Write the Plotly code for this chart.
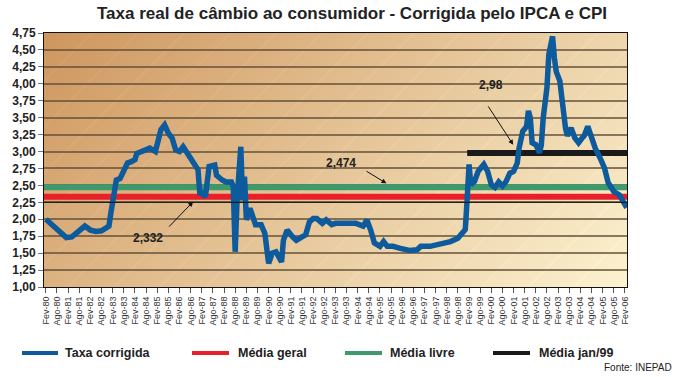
import base64, zlib, struct
import plotly.graph_objects as go

# ---------------- data ----------------
taxa_datas = [
    '1980-02','1980-06','1980-10','1981-01','1981-04','1981-07','1981-11','1982-02','1982-05','1982-08','1982-11','1982-12',
    '1983-01','1983-03','1983-04','1983-06','1983-08','1983-10','1983-12','1984-02','1984-03','1984-06','1984-10',
    '1985-01','1985-02','1985-04','1985-06','1985-08','1985-10','1985-12','1986-02','1986-04','1986-08','1986-12',
    '1987-01','1987-02','1987-04','1987-05','1987-06','1987-09','1987-10','1988-01','1988-03','1988-06','1988-07','1988-08','1988-09','1988-11','1988-12',
    '1989-01','1989-02','1989-04','1989-06','1989-07','1989-10','1989-12','1990-02','1990-04','1990-06','1990-09','1990-10','1990-12',
    '1991-03','1991-05','1991-08','1991-10','1991-12','1992-02','1992-04','1992-07','1992-09','1992-12','1993-02','1993-06','1993-10',
    '1994-01','1994-05','1994-07','1994-09','1994-11','1995-02','1995-04','1995-06','1995-09','1996-01','1996-06','1996-10','1996-12',
    '1997-05','1997-10','1998-04','1998-08','1998-11','1998-12','1999-01','1999-02','1999-03','1999-05','1999-07','1999-10','1999-12',
    '2000-02','2000-04','2000-06','2000-08','2000-10','2000-12','2001-02','2001-04','2001-05','2001-07','2001-09','2001-10','2001-11','2001-12',
    '2002-02','2002-04','2002-05','2002-06','2002-08','2002-09','2002-11','2002-12','2003-01','2003-03','2003-04','2003-06','2003-07','2003-09','2003-11',
    '2004-01','2004-03','2004-04','2004-06','2004-08','2004-10','2005-01','2005-03','2005-05','2005-08','2005-11','2006-01','2006-03',
]
taxa_corrigida = [
    2.00, 1.90, 1.79, 1.73, 1.74, 1.82, 1.90, 1.84, 1.82, 1.83, 1.90, 1.90,
    2.09, 2.38, 2.58, 2.60, 2.70, 2.83, 2.85, 2.88, 2.97, 3.00, 3.05,
    3.00, 3.10, 3.32, 3.39, 3.27, 3.20, 3.02, 3.00, 3.07, 2.90, 2.73,
    2.36, 2.39, 2.33, 2.58, 2.78, 2.80, 2.65, 2.58, 2.55, 2.55, 2.48, 1.52, 2.28, 3.07, 2.28,
    2.63, 1.99, 2.16, 1.99, 1.92, 1.92, 1.79, 1.35, 1.50, 1.52, 1.37, 1.69, 1.84,
    1.74, 1.69, 1.74, 1.77, 1.96, 2.01, 2.01, 1.94, 1.99, 1.92, 1.94, 1.94, 1.92,
    1.94, 1.90, 1.99, 1.84, 1.65, 1.60, 1.67, 1.60, 1.60, 1.57, 1.54, 1.55, 1.60,
    1.60, 1.63, 1.67, 1.72, 1.80, 1.85, 2.30, 2.81, 2.51, 2.56, 2.71, 2.81, 2.71,
    2.51, 2.47, 2.55, 2.49, 2.56, 2.68, 2.71, 2.83, 3.05, 3.30, 3.37, 3.60, 3.50, 3.13,
    3.10, 2.98, 3.10, 3.50, 3.94, 4.43, 4.70, 4.38, 4.18, 4.04, 3.74, 3.35, 3.23, 3.35, 3.20,
    3.13, 3.20, 3.23, 3.37, 3.20, 3.05, 2.88, 2.76, 2.54, 2.41, 2.36, 2.27, 2.17,
]
media_geral = 2.332
media_livre = 2.474
media_jan99 = 2.98
inicio_jan99 = '1999-01-01'
rotulos_medias = ['2,332', '2,474', '2,98']

x_inicio, x_fim = '1980-01-01', '2006-03-06'
anos = list(range(1980, 2007))
tick_vals = []
tick_text = []
for a in anos:
    for mes, nome in (('02', 'Fev'), ('08', 'Ago')):
        if a == 2006 and mes == '08':
            continue
        tick_vals.append(f'{a}-{mes}-01')
        tick_text.append(f'{nome}-{str(a)[2:]}')

# ---------------- background gradient image ----------------
def gradient_png(w, h, c0, c1):
    raw = bytearray()
    for y in range(h):
        raw.append(0)
        for x in range(w):
            t = (x + y) / (w + h - 2)
            s = (x + y) % 46
            boost = 4 if s < 3 else 0
            for i in range(3):
                v = c0[i] + (c1[i] - c0[i]) * t + boost
                raw.append(max(0, min(255, int(round(v)))))
    def chunk(tag, data):
        return struct.pack('>I', len(data)) + tag + data + struct.pack('>I', zlib.crc32(tag + data) & 0xffffffff)
    png = b'\x89PNG\r\n\x1a\n'
    png += chunk(b'IHDR', struct.pack('>IIBBBBB', w, h, 8, 2, 0, 0, 0))
    png += chunk(b'IDAT', zlib.compress(bytes(raw), 9))
    png += chunk(b'IEND', b'')
    return 'data:image/png;base64,' + base64.b64encode(png).decode()

bg_src = gradient_png(583, 254, (206, 150, 94), (252, 242, 208))

# ---------------- figure ----------------
W, H = 679, 377
L, R, T, B = 44, 52, 33, 90
PW, PH = W - L - R, H - T - B
def px(xp):
    return (xp - L) / PW
def py(yp):
    return (T + PH - yp) / PH

FONT = 'Liberation Sans, Arial, sans-serif'

fig = go.Figure()
fig.add_trace(go.Scatter(x=[x_inicio, x_fim], y=[media_geral, media_geral], mode='lines',
                         line=dict(color='#e8202a', width=6), hoverinfo='skip'))
fig.add_trace(go.Scatter(x=[x_inicio, x_fim], y=[media_livre, media_livre], mode='lines',
                         line=dict(color='#3d9a6c', width=6), hoverinfo='skip'))
fig.add_trace(go.Scatter(x=[inicio_jan99, x_fim], y=[media_jan99, media_jan99], mode='lines',
                         line=dict(color='#1a1a1a', width=6), hoverinfo='skip'))
fig.add_trace(go.Scatter(x=taxa_datas, y=taxa_corrigida, mode='lines',
                         line=dict(color='#0d5a9c', width=5.5), name='Taxa corrigida'))

fig.add_shape(type='line', xref='paper', x0=0, x1=1, yref='y', y0=2.25, y1=2.25,
              line=dict(color='#111', width=1), layer='above')

bold = dict(family=FONT, size=12, color='#222', weight='bold')

arrows = [
    ('1986-09-12', 2.26, -27, 28, rotulos_medias[0], 148, 238),
    ('1995-05-18', 2.53, -23, -14, rotulos_medias[1], 341, 163),
    ('2001-01-25', 3.10, -28, -43, rotulos_medias[2], 491, 85),
]
for xa, ya, ax, ay, txt, tx, ty in arrows:
    fig.add_annotation(x=xa, y=ya, xref='x', yref='y', text=' ', showarrow=True,
                       ax=ax, ay=ay, arrowhead=2, arrowsize=1, arrowwidth=1,
                       arrowcolor='#111', standoff=0, startstandoff=0)
    fig.add_annotation(x=px(tx), y=py(ty), xref='paper', yref='paper', text=txt,
                       showarrow=False, font=bold, xanchor='center', yanchor='middle')

leg = [('#0d5a9c', 22, 58, 63, 'Taxa corrigida'),
       ('#e8202a', 192, 229, 236, 'Média geral'),
       ('#3d9a6c', 345, 382, 388, 'Média livre'),
       ('#1a1a1a', 493, 530, 537, 'Média jan/99')]
for col, x0, x1, xt, txt in leg:
    fig.add_shape(type='line', xref='paper', yref='paper', x0=px(x0), x1=px(x1),
                  y0=py(353), y1=py(353), line=dict(color=col, width=4))
    fig.add_annotation(x=px(xt), y=py(353), xref='paper', yref='paper', text=txt,
                       showarrow=False, font=dict(family=FONT, size=12.5, color='#222', weight='bold'),
                       xanchor='left', yanchor='middle')

fig.add_annotation(x=px(674), y=py(368), xref='paper', yref='paper', text='Fonte: INEPAD',
                   showarrow=False, xanchor='right', yanchor='middle',
                   font=dict(family=FONT, size=10, color='#222'))

fig.add_layout_image(dict(source=bg_src, xref='paper', yref='paper', x=0, y=1, sizex=1, sizey=1,
                          sizing='stretch', layer='below', xanchor='left', yanchor='top'))

fig.update_layout(
    width=W, height=H,
    margin=dict(l=L, r=R, t=T, b=B),
    paper_bgcolor='white', plot_bgcolor='rgba(0,0,0,0)',
    showlegend=False,
    separators=',.',
    title=dict(text='Taxa real de câmbio ao consumidor - Corrigida pelo IPCA e CPI',
               x=352 / W, xanchor='center', y=1 - 13 / H, yanchor='middle',
               font=dict(family=FONT, size=17, color='#222', weight='bold')),
    xaxis=dict(type='date', range=[x_inicio, x_fim], tickmode='array', tickvals=tick_vals,
               ticktext=tick_text, tickangle=-90, ticks='outside', ticklen=5, tickcolor='#555',
               tickfont=dict(family=FONT, size=9, color='#333'),
               showgrid=False, showline=True, linecolor='#111', linewidth=1, mirror=True, zeroline=False),
    yaxis=dict(range=[1, 4.75], dtick=0.25, tick0=1, tickformat='.2f', ticks='outside', ticklen=5,
               tickcolor='#777', tickfont=dict(family=FONT, size=12, color='#222', weight='bold'),
               showgrid=True, gridcolor='rgba(100,80,55,0.75)', gridwidth=1.5,
               showline=True, linecolor='#111', linewidth=1, mirror=True, zeroline=False),
)

fig.write_html('out.html', config={'displayModeBar': False},
               post_script="document.body.style.margin='0';document.body.style.padding='0';")
